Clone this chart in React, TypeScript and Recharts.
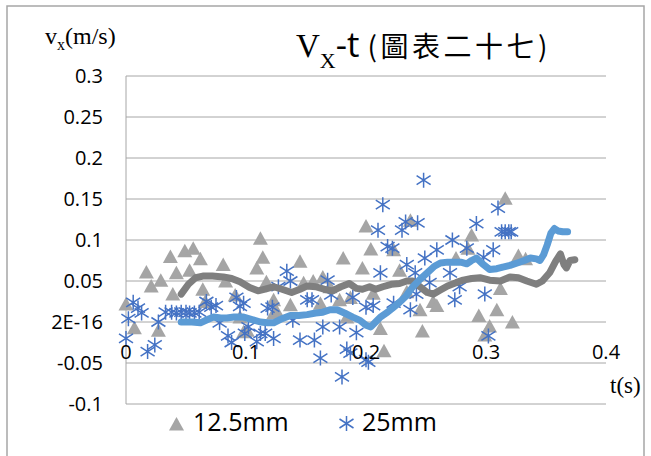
import { ScatterChart, Scatter, XAxis, YAxis, CartesianGrid } from 'recharts'

// 12.5mm raw points [t, vx]
const tri125: [number, number][] = [
  [0.0, 0.022], [0.007, -0.007], [0.017, 0.061], [0.021, 0.044], [0.027, -0.01],
  [0.029, 0.051], [0.037, 0.08], [0.039, 0.034], [0.042, 0.06], [0.049, 0.087],
  [0.053, 0.063], [0.056, 0.09], [0.062, 0.077], [0.064, 0.04], [0.066, 0.025],
  [0.081, 0.07], [0.083, 0.05], [0.091, 0.033], [0.095, 0.006], [0.098, -0.012],
  [0.101, -0.01], [0.109, 0.066], [0.112, 0.102], [0.114, 0.079], [0.117, 0.049],
  [0.123, 0.027], [0.123, 0.011], [0.125, 0.015], [0.137, 0.021], [0.145, 0.074],
  [0.148, 0.048], [0.156, 0.05], [0.162, 0.023], [0.164, 0.055], [0.17, 0.043],
  [0.178, 0.027], [0.181, 0.078], [0.184, 0.006], [0.187, 0.03], [0.197, 0.066],
  [0.2, 0.117], [0.204, 0.089], [0.206, 0.035], [0.212, -0.008], [0.215, -0.035],
  [0.223, 0.088], [0.228, 0.063], [0.234, 0.037], [0.237, 0.124], [0.245, 0.015],
  [0.247, -0.011], [0.256, 0.025], [0.259, 0.02], [0.275, 0.078], [0.285, 0.09],
  [0.288, 0.106], [0.294, 0.008], [0.299, -0.016], [0.303, -0.005], [0.309, 0.015],
  [0.312, 0.041], [0.316, 0.151], [0.322, 0.0], [0.327, 0.081], [0.333, 0.077],
]

// 25mm raw points [t, vx]
const star25: [number, number][] = [
  [0.0, -0.02], [0.002, 0.004], [0.006, 0.024], [0.01, 0.017], [0.013, 0.011],
  [0.018, -0.036], [0.024, -0.028], [0.027, 0.0], [0.033, 0.012], [0.038, 0.012],
  [0.042, 0.011], [0.046, 0.012], [0.05, 0.012], [0.053, 0.011], [0.057, 0.011],
  [0.061, 0.012], [0.067, 0.025], [0.071, 0.018], [0.075, 0.02], [0.078, -0.001],
  [0.085, -0.017], [0.088, -0.025], [0.092, 0.03], [0.095, 0.019], [0.098, 0.023],
  [0.099, -0.014], [0.102, -0.006], [0.109, -0.024], [0.112, -0.014], [0.116, -0.014],
  [0.118, 0.017], [0.122, 0.018], [0.123, -0.02], [0.127, 0.043], [0.134, 0.062],
  [0.137, 0.05], [0.139, 0.002], [0.145, -0.022], [0.151, 0.027], [0.155, 0.027],
  [0.157, -0.022], [0.162, -0.044], [0.164, -0.006], [0.168, 0.051], [0.171, 0.033],
  [0.178, -0.006], [0.18, -0.067], [0.184, -0.033], [0.187, -0.038], [0.189, 0.03],
  [0.192, -0.013], [0.2, -0.046], [0.202, -0.049], [0.2, 0.018], [0.206, 0.02],
  [0.21, 0.112], [0.212, 0.06], [0.214, 0.143], [0.218, 0.092], [0.222, 0.09],
  [0.223, 0.023], [0.23, 0.112], [0.233, 0.122], [0.234, 0.07], [0.237, 0.015],
  [0.241, 0.06], [0.242, 0.034], [0.243, 0.121], [0.248, 0.173], [0.249, 0.078],
  [0.253, 0.048], [0.259, 0.088], [0.27, 0.06], [0.272, 0.1], [0.274, 0.027],
  [0.278, 0.043], [0.284, 0.09], [0.292, 0.12], [0.298, 0.079], [0.299, 0.034],
  [0.302, -0.017], [0.306, 0.088], [0.31, 0.139], [0.313, 0.11], [0.316, 0.11],
  [0.319, 0.11], [0.321, 0.11],
]

// moving-average curves
const avg125: [number, number][] = [
  [0.046, 0.034], [0.052, 0.046], [0.058, 0.054], [0.064, 0.056], [0.072, 0.056],
  [0.081, 0.055], [0.088, 0.053], [0.095, 0.049], [0.103, 0.042], [0.11, 0.038],
  [0.116, 0.04], [0.123, 0.043], [0.13, 0.04], [0.138, 0.036], [0.145, 0.04],
  [0.151, 0.044], [0.158, 0.043], [0.165, 0.04], [0.172, 0.038], [0.179, 0.043],
  [0.186, 0.047], [0.192, 0.041], [0.197, 0.04], [0.203, 0.043], [0.208, 0.04],
  [0.214, 0.043], [0.221, 0.046], [0.228, 0.047], [0.234, 0.05], [0.239, 0.05],
  [0.245, 0.043], [0.251, 0.036], [0.256, 0.034], [0.262, 0.039], [0.268, 0.044],
  [0.275, 0.048], [0.281, 0.051], [0.288, 0.053], [0.295, 0.054], [0.303, 0.051],
  [0.312, 0.05], [0.32, 0.055], [0.327, 0.054], [0.334, 0.05], [0.342, 0.046],
  [0.347, 0.05], [0.353, 0.06], [0.358, 0.074], [0.362, 0.083], [0.365, 0.07],
  [0.367, 0.066], [0.37, 0.075], [0.374, 0.076],
]

const avg25: [number, number][] = [
  [0.046, 0.0], [0.055, 0.0], [0.062, -0.001], [0.068, 0.003], [0.073, 0.006],
  [0.079, 0.005], [0.084, 0.005], [0.09, 0.006], [0.098, 0.006], [0.105, 0.003],
  [0.112, 0.0], [0.118, -0.001], [0.123, -0.001], [0.13, 0.004], [0.137, 0.008],
  [0.144, 0.008], [0.151, 0.009], [0.158, 0.011], [0.164, 0.012], [0.17, 0.015],
  [0.176, 0.015], [0.182, 0.011], [0.189, 0.006], [0.195, 0.002], [0.2, -0.004],
  [0.204, -0.006], [0.208, 0.0], [0.212, 0.006], [0.218, 0.012], [0.223, 0.018],
  [0.228, 0.024], [0.233, 0.031], [0.239, 0.043], [0.245, 0.052], [0.251, 0.06],
  [0.257, 0.068], [0.262, 0.072], [0.268, 0.073], [0.273, 0.073], [0.279, 0.073],
  [0.284, 0.071], [0.288, 0.075], [0.292, 0.078], [0.297, 0.071], [0.303, 0.064],
  [0.309, 0.065], [0.314, 0.067], [0.32, 0.069], [0.326, 0.072], [0.332, 0.075],
  [0.337, 0.078], [0.342, 0.077], [0.345, 0.075], [0.348, 0.082], [0.351, 0.094],
  [0.354, 0.108], [0.357, 0.114], [0.36, 0.111], [0.364, 0.11], [0.368, 0.11],
]

const xTicks = [0, 0.1, 0.2, 0.3, 0.4]
const yTicks = [-0.1, -0.05, 0, 0.05, 0.1, 0.15, 0.2, 0.25, 0.3]
const seriesNames = ['12.5mm', '25mm']

const toXY = (arr: [number, number][]) => arr.map(([x, y]) => ({ x, y }))

const GRID = '#a6a6a6'
const TRI = '#a5a5a5'
const STAR = '#4472c4'
const FONT = '"Open Sans", "Noto Sans", sans-serif'
const SERIF = '"Liberation Serif", "DejaVu Serif", serif'

const Triangle = ({ cx, cy }: any) => (
  <path d={`M${cx},${cy - 7} L${cx + 7.5},${cy + 6.5} L${cx - 7.5},${cy + 6.5} Z`} fill={TRI} />
)

const Star = ({ cx, cy }: any) => (
  <path
    d={`M${cx},${cy - 7.5} L${cx},${cy + 7.5} M${cx - 7},${cy - 4.5} L${cx + 7},${cy + 4.5} M${cx - 7},${cy + 4.5} L${cx + 7},${cy - 4.5}`}
    stroke={STAR}
    strokeWidth={1.5}
    fill="none"
  />
)

const NoDot = () => <g />

const YTick = ({ y, payload }: any) => (
  <text x={103} y={y} dy="0.36em" textAnchor="end" fontFamily={FONT} fontSize={20} fill="#000">
    {payload.value === 0 ? '2E-16' : String(payload.value)}
  </text>
)

const XTick = ({ x, payload }: any) => (
  <text x={x} y={352} dy="0.36em" textAnchor="middle" fontFamily={FONT} fontSize={20} fill="#000">
    {String(payload.value)}
  </text>
)

export default function App() {
  return (
    <div style={{ position: 'absolute', left: 0, top: 0, width: 651, height: 456, background: '#fff', overflow: 'hidden' }}>
      <ScatterChart width={651} height={456} margin={{ top: 76, right: 45, bottom: 22, left: 0 }}>
        <CartesianGrid vertical={false} stroke={GRID} />
        <XAxis
          type="number"
          dataKey="x"
          domain={[0, 0.4]}
          ticks={xTicks}
          height={30}
          axisLine={false}
          tickLine={false}
          tick={<XTick />}
          interval={0}
        />
        <YAxis
          type="number"
          dataKey="y"
          domain={[-0.1, 0.3]}
          ticks={yTicks}
          width={126}
          axisLine={{ stroke: GRID }}
          tickLine={false}
          tick={<YTick />}
          interval={0}
        />
        <Scatter name={seriesNames[0]} data={toXY(tri125)} shape={<Triangle />} isAnimationActive={false} />
        <Scatter name={seriesNames[1]} data={toXY(star25)} shape={<Star />} isAnimationActive={false} />
        <Scatter
          data={toXY(avg125)}
          line={{ stroke: '#7f7f7f', strokeWidth: 7, strokeLinejoin: 'round', strokeLinecap: 'round' }}
          lineType="joint"
          shape={<NoDot />}
          isAnimationActive={false}
        />
        <Scatter
          data={toXY(avg25)}
          line={{ stroke: '#5b9bd5', strokeWidth: 7, strokeLinejoin: 'round', strokeLinecap: 'round' }}
          lineType="joint"
          shape={<NoDot />}
          isAnimationActive={false}
        />
      </ScatterChart>
      <svg width={651} height={456} style={{ position: 'absolute', left: 0, top: 0, pointerEvents: 'none' }}>
        <rect x={7} y={6} width={637} height={470} fill="none" stroke="#a6a6a6" strokeWidth={1.5} />
        <text x={45} y={44} fontFamily={SERIF} fontSize={24} fill="#000">
          v<tspan fontSize={16} dy={6}>x</tspan><tspan dy={-6}>(m/s)</tspan>
        </text>
        <text x={296} y={57} fill="#000">
          <tspan fontFamily={SERIF} fontSize={33}>V</tspan>
          <tspan fontFamily={SERIF} fontSize={22} dy={11}>X</tspan>
          <tspan fontFamily={FONT} fontSize={35} dy={-11}>-t</tspan>
          <tspan fontFamily='"Noto Sans CJK TC", sans-serif' fontSize={28} letterSpacing={3.5} dx={8}>(圖表二十七)</tspan>
        </text>
        <text x={610} y={393} fontFamily={SERIF} fontSize={23} fill="#000">t(s)</text>
        {/* legend */}
        <Triangle cx={176.5} cy={424} />
        <text x={193} y={431} fontFamily={FONT} fontSize={25} fill="#000">{seriesNames[0]}</text>
        <Star cx={346.5} cy={423.5} />
        <text x={362} y={431} fontFamily={FONT} fontSize={25} fill="#000">{seriesNames[1]}</text>
      </svg>
    </div>
  )
}
